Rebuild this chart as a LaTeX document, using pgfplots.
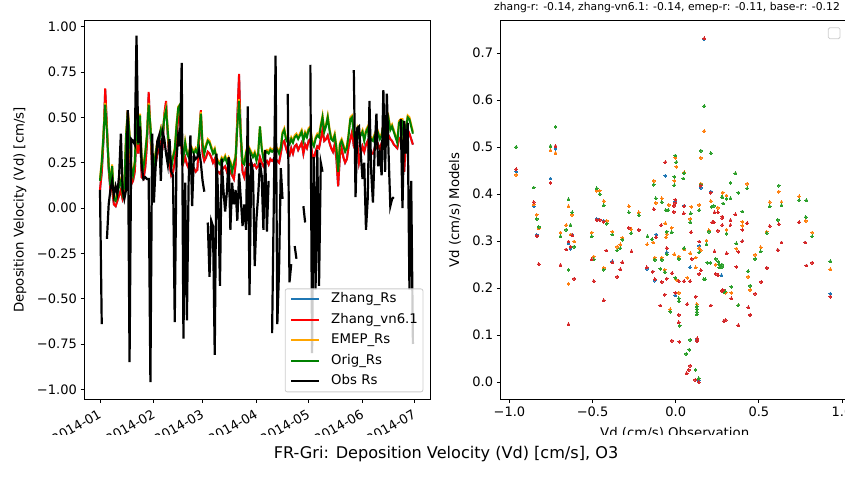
\documentclass[border=0pt]{standalone}
\usepackage{fontspec}
\setmainfont{DejaVu Sans}
\usepackage{pgfplots}
\usepackage{pgfplotstable}
\pgfplotsset{compat=1.18}
\definecolor{mplblue}{HTML}{1F77B4}
\definecolor{mplorange}{HTML}{FF7F0E}
\definecolor{mplgreen}{HTML}{2CA02C}
\definecolor{mplred}{HTML}{D62728}
\definecolor{lgreen}{HTML}{008000}
\definecolor{lorange}{HTML}{FFA500}
\definecolor{lred}{HTML}{FF0000}
\definecolor{lblue}{HTML}{1F77B4}
\definecolor{legframe}{HTML}{CCCCCC}
\newcommand{\tickfont}{\fontsize{13}{15.6}\selectfont}
\newcommand{\legfont}{\fontsize{13.3}{16}\selectfont}
\newcommand{\labfont}{\fontsize{13.3}{16}\selectfont}
\newcommand{\supfont}{\fontsize{16.1}{19}\selectfont}
\newcommand{\ttlfont}{\fontsize{10.8}{13}\selectfont}

% day, Zhang_Rs, Zhang_vn6.1, EMEP_Rs, Orig_Rs, Obs
\pgfplotstableread{
d zr zv em og ob
0 0.10 0.10 0.16 0.15 0.10
1 0.19 0.20 0.26 0.25 -0.64
2 0.37 0.38 0.41 0.40 nan
3 0.65 0.66 0.58 0.57 nan
4 0.44 0.45 0.43 0.42 -0.17
5 0.21 0.22 0.24 0.23 0.02
6 0.10 0.10 0.13 0.12 0.10
7 0.10 0.10 0.24 0.23 0.15
8 0.02 0.02 0.06 0.05 0.07
9 0.01 0.01 0.05 0.04 0.12
10 0.04 0.04 0.09 0.08 0.08
11 0.07 0.07 0.13 0.12 0.18
12 0.10 0.10 0.16 0.15 0.41
13 0.05 0.05 0.09 0.08 0.10
14 0.08 0.08 0.13 0.12 0.05
15 0.34 0.35 0.41 0.40 0.10
16 0.53 0.54 0.54 0.53 0.54
17 0.37 0.38 0.41 0.40 -0.85
18 0.13 0.13 0.23 0.22 0.38
19 0.15 0.15 0.19 0.18 0.37
20 0.20 0.20 0.26 0.25 0.35
21 0.39 0.40 0.50 0.50 0.95
22 0.30 0.30 0.36 0.35 0.36
23 0.43 0.44 0.52 0.51 0.45
24 0.17 0.17 0.26 0.25 0.23
25 0.16 0.16 0.23 0.22 0.16
26 0.22 0.22 0.31 0.30 0.17
27 0.35 0.35 0.41 0.40 0.16
28 0.63 0.64 0.58 0.57 0.16
29 0.42 0.42 0.46 0.45 -0.96
30 0.22 0.22 0.29 0.28 0.41
31 0.18 0.18 0.23 0.22 0.03
32 0.24 0.24 0.31 0.30 0.23
33 0.30 0.30 0.37 0.36 0.37
34 0.32 0.32 0.38 0.37 0.40
35 0.36 0.36 0.44 0.43 0.15
36 0.34 0.34 0.41 0.40 0.42
37 0.51 0.52 0.51 0.50 0.38
38 0.58 0.59 0.55 0.54 0.30
39 0.40 0.40 0.43 0.42 0.24
40 0.24 0.24 0.31 0.30 0.38
41 0.18 0.18 0.23 0.22 0.20
42 0.20 0.20 0.29 0.28 0.18
43 0.25 0.25 0.33 0.32 -0.63
44 0.38 0.38 0.46 0.45 0.27
45 0.50 0.50 0.56 0.55 0.40
46 0.53 0.54 0.57 0.57 0.34
47 0.30 0.30 0.36 0.35 0.80
48 0.25 0.25 0.29 0.28 -0.72
49 0.28 0.28 0.37 0.36 0.14
50 0.24 0.24 0.31 0.30 -0.62
51 0.22 0.22 0.29 0.28 0.15
52 0.25 0.25 0.35 0.34 0.40
53 0.22 0.22 0.33 0.32 0.01
54 0.22 0.22 0.31 0.30 0.29
55 0.20 0.20 0.33 0.32 0.27
56 0.21 0.21 0.31 0.30 0.28
57 0.38 0.38 0.41 0.40 0.32
58 0.53 0.54 0.53 0.52 0.25
59 0.30 0.30 0.36 0.35 0.15
60 0.26 0.26 0.31 0.30 0.09
61 0.28 0.28 0.35 0.34 nan
62 0.31 0.31 0.38 0.37 -0.08
63 0.30 0.30 0.37 0.36 -0.38
64 0.28 0.28 0.34 0.33 -0.07
65 0.25 0.25 0.31 0.30 -0.10
66 0.27 0.27 0.33 0.32 -0.81
67 0.20 0.20 0.28 0.27 0.30
68 0.20 0.20 0.26 0.25 0.05
69 0.19 0.19 0.25 0.24 -0.43
70 0.21 0.21 0.28 0.27 0.27
71 0.22 0.22 0.27 0.26 0.10
72 0.23 0.23 0.29 0.28 -0.02
73 0.20 0.20 0.26 0.25 0.09
74 0.22 0.22 0.28 0.27 0.28
75 0.20 0.20 0.26 0.25 -0.12
76 0.18 0.18 0.21 0.20 0.14
77 0.16 0.16 0.25 0.24 0.02
78 0.24 0.24 0.29 0.28 0.10
79 0.49 0.50 0.46 0.45 -0.07
80 0.73 0.74 0.60 0.59 0.19
81 0.38 0.38 0.41 0.40 0.05
82 0.20 0.20 0.26 0.25 -0.10
83 0.17 0.17 0.25 0.24 0.02
84 0.22 0.22 0.31 0.30 -0.12
85 0.23 0.23 0.29 0.28 0.56
86 0.24 0.24 0.33 0.32 -0.48
87 0.25 0.25 0.31 0.30 0.25
88 0.23 0.23 0.29 0.28 0.20
89 0.24 0.24 0.31 0.30 -0.32
90 0.22 0.22 0.27 0.26 -0.06
91 0.23 0.23 0.31 0.30 0.07
92 0.28 0.28 0.45 0.45 0.25
93 0.25 0.25 0.34 0.33 0.18
94 0.23 0.23 0.28 0.27 -0.12
95 0.25 0.25 0.31 0.30 0.32
96 0.26 0.26 0.32 0.31 -0.13
97 0.24 0.24 0.31 0.30 0.15
98 0.27 0.27 0.33 0.32 nan
99 0.26 0.26 0.32 0.31 -0.69
100 0.27 0.27 0.33 0.32 0.05
101 0.27 0.27 0.34 0.33 0.84
102 0.26 0.26 0.33 0.32 -0.64
103 0.25 0.25 0.31 0.30 -0.34
104 0.30 0.30 0.34 0.33 0.22
105 0.36 0.36 0.42 0.41 0.05
106 0.37 0.37 0.44 0.43 nan
107 0.33 0.33 0.39 0.38 nan
108 0.30 0.30 0.37 0.36 0.63
109 0.29 0.29 0.36 0.35 -0.41
110 0.33 0.33 0.39 0.38 -0.31
111 0.30 0.30 0.37 0.36 nan
112 0.34 0.34 0.40 0.39 -0.21
113 0.35 0.35 0.41 0.40 -0.28
114 0.32 0.32 0.39 0.38 nan
115 0.34 0.34 0.41 0.40 nan
116 0.36 0.36 0.43 0.42 nan
117 0.30 0.30 0.38 0.37 0.01
118 0.35 0.35 0.42 0.41 -0.08
119 0.33 0.33 0.40 0.39 nan
120 0.37 0.37 0.44 0.43 nan
121 0.38 0.38 0.45 0.44 0.79
122 0.30 0.30 0.37 0.36 -0.80
123 0.27 0.27 0.35 0.34 0.28
124 0.31 0.31 0.39 0.38 -0.45
125 0.34 0.34 0.41 0.40 0.32
126 0.33 0.33 0.40 0.39 -0.43
127 0.38 0.38 0.46 0.45 0.25
128 0.43 0.43 0.51 0.50 0.20
129 0.37 0.37 0.43 0.42 nan
130 0.38 0.38 0.46 0.45 nan
131 0.40 0.40 0.51 0.50 nan
132 0.36 0.36 0.44 0.43 nan
133 0.33 0.33 0.39 0.38 nan
134 0.31 0.31 0.38 0.37 nan
135 0.35 0.35 0.41 0.40 nan
136 0.27 0.27 0.34 0.33 nan
137 0.12 0.12 0.21 0.20 nan
138 0.29 0.29 0.36 0.35 nan
139 0.33 0.33 0.38 0.37 nan
140 0.28 0.28 0.35 0.34 nan
141 0.25 0.25 0.32 0.31 nan
142 0.27 0.27 0.34 0.33 nan
143 0.34 0.34 0.41 0.40 nan
144 0.38 0.38 0.50 0.49 nan
145 0.42 0.42 0.51 0.50 nan
146 0.34 0.34 0.41 0.40 0.76
147 0.32 0.32 0.39 0.38 0.06
148 0.36 0.36 0.44 0.43 0.44
149 0.25 0.25 0.40 0.39 0.45
150 0.30 0.30 0.41 0.40 0.30
151 0.34 0.34 0.43 0.42 0.16
152 0.31 0.31 0.38 0.37 0.25
153 0.35 0.35 0.43 0.42 -0.12
154 0.37 0.37 0.45 0.44 0.05
155 0.28 0.28 0.37 0.36 0.59
156 0.30 0.30 0.39 0.38 0.20
157 0.30 0.30 0.38 0.37 0.03
158 0.33 0.33 0.41 0.40 0.32
159 0.33 0.33 0.40 0.39 0.52
160 0.35 0.35 0.42 0.41 0.23
161 0.32 0.32 0.39 0.38 0.30
162 0.36 0.36 0.41 0.40 0.18
163 0.38 0.38 0.46 0.45 0.65
164 0.40 0.40 0.48 0.47 0.20
165 0.37 0.37 0.45 0.44 0.63
166 0.40 0.40 0.50 0.49 0.30
167 0.38 0.38 0.44 0.43 0.01
168 0.37 0.37 0.46 0.45 0.05
169 0.35 0.35 0.43 0.42 0.06
170 0.34 0.34 0.40 0.39 nan
171 0.33 0.33 0.37 0.36 nan
172 0.38 0.38 0.48 0.47 nan
173 0.39 0.39 0.49 0.48 0.49
174 0.38 0.38 0.49 0.48 0.00
175 0.20 0.20 0.31 0.30 0.48
176 0.38 0.38 0.45 0.44 0.30
177 0.43 0.43 0.51 0.50 0.47
178 0.41 0.41 0.50 0.49 -0.45
179 0.38 0.38 0.46 0.45 0.15
180 0.35 0.35 0.42 0.41 -0.75
}\ts

\pgfplotstableread{
x y
-0.96 0.448
-0.723 0.496
-0.753 0.433
-0.854 0.374
-0.836 0.313
-0.623 0.314
-0.645 0.295
-0.633 0.284
-0.475 0.347
-0.433 0.343
-0.381 0.257
0.171 0.729
-0.062 0.439
0.151 0.413
0.211 0.405
-0.002 0.384
0.050 0.375
-0.222 0.324
-0.118 0.314
-0.054 0.276
0.141 0.290
-0.174 0.241
-0.138 0.235
0.086 0.244
-0.126 0.216
-0.002 0.185
0.275 0.227
0.282 0.196
0.129 0.090
0.138 0.003
0.329 0.344
0.429 0.338
0.742 0.340
0.930 0.188
0.377 0.277
0.401 0.300
0.614 0.281
0.636 0.297
0.778 0.297
0.547 0.243
0.786 0.248
0.437 0.159
0.447 0.143
0.290 0.130
}\sb

\pgfplotstableread{
x y
-0.96 0.441
-0.753 0.493
-0.723 0.487
-0.854 0.378
-0.836 0.356
-0.824 0.327
-0.645 0.374
-0.623 0.356
-0.659 0.334
-0.693 0.318
-0.633 0.314
-0.611 0.299
-0.645 0.209
-0.475 0.407
-0.457 0.407
-0.433 0.385
-0.415 0.343
-0.505 0.318
-0.381 0.320
-0.282 0.374
-0.321 0.307
-0.333 0.293
-0.353 0.288
-0.493 0.267
-0.433 0.243
0.171 0.534
0.151 0.477
-0.002 0.477
0.004 0.458
0.050 0.446
-0.008 0.428
-0.132 0.428
0.151 0.422
0.283 0.403
-0.084 0.391
-0.120 0.381
-0.222 0.361
-0.042 0.377
0.094 0.373
0.141 0.377
0.211 0.385
0.254 0.371
0.088 0.347
-0.062 0.338
-0.025 0.328
-0.268 0.325
-0.172 0.293
-0.136 0.297
-0.054 0.315
-0.058 0.308
0.050 0.282
0.141 0.285
0.150 0.281
0.185 0.301
0.200 0.323
-0.126 0.265
-0.084 0.265
-0.008 0.272
0.019 0.267
0.088 0.274
0.120 0.265
0.240 0.250
-0.066 0.239
0.004 0.218
0.069 0.222
0.120 0.244
0.019 0.190
-0.033 0.155
0.127 0.166
0.300 0.190
0.359 0.444
0.429 0.422
0.281 0.403
0.305 0.397
0.620 0.405
0.565 0.383
0.636 0.383
0.742 0.395
0.401 0.341
0.401 0.333
0.782 0.343
0.820 0.318
0.305 0.324
0.547 0.320
0.365 0.284
0.477 0.271
0.511 0.287
0.930 0.240
0.435 0.224
0.335 0.190
0.447 0.196
0.377 0.164
0.290 0.193
}\so

\pgfplotstableread{
x y
-0.96 0.500
-0.723 0.543
-0.753 0.502
-0.854 0.414
-0.836 0.347
-0.824 0.330
-0.645 0.389
-0.623 0.361
-0.633 0.334
-0.693 0.310
-0.659 0.324
-0.611 0.288
-0.645 0.239
-0.475 0.412
-0.457 0.400
-0.433 0.376
-0.415 0.337
-0.505 0.310
-0.381 0.314
-0.282 0.361
-0.321 0.303
-0.353 0.280
-0.333 0.285
-0.493 0.261
-0.433 0.239
0.171 0.587
0.151 0.492
0.211 0.487
-0.002 0.482
0.004 0.468
0.050 0.444
0.046 0.433
-0.008 0.437
-0.008 0.419
-0.132 0.420
0.151 0.420
0.277 0.393
-0.120 0.391
-0.084 0.383
-0.046 0.366
-0.060 0.366
0.090 0.359
0.141 0.366
0.229 0.375
0.215 0.373
0.285 0.380
-0.222 0.355
0.088 0.340
-0.054 0.320
-0.025 0.319
-0.268 0.317
-0.142 0.304
-0.170 0.310
0.050 0.285
0.141 0.276
0.185 0.293
0.200 0.320
-0.126 0.260
-0.084 0.260
0.019 0.262
-0.054 0.272
-0.092 0.241
-0.066 0.234
-0.002 0.222
0.189 0.254
0.209 0.254
0.168 0.219
0.177 0.219
0.240 0.262
0.256 0.256
0.262 0.250
0.262 0.244
0.297 0.193
0.019 0.178
0.019 0.172
-0.033 0.150
0.127 0.161
0.127 0.155
0.127 0.149
0.127 0.144
0.024 0.120
0.086 0.090
0.081 0.069
0.063 0.060
0.119 0.026
0.138 0.008
0.359 0.444
0.329 0.424
0.429 0.412
0.377 0.403
0.281 0.393
0.305 0.390
0.329 0.391
0.620 0.418
0.565 0.374
0.636 0.376
0.742 0.387
0.786 0.387
0.930 0.257
0.401 0.363
0.614 0.345
0.782 0.351
0.820 0.310
0.305 0.316
0.547 0.317
0.365 0.295
0.477 0.262
0.511 0.278
0.278 0.250
0.278 0.245
0.435 0.236
0.335 0.203
0.290 0.191
0.447 0.205
0.377 0.164
}\sg

\pgfplotstableread{
x y
-0.96 0.453
-0.723 0.502
-0.753 0.424
-0.854 0.383
-0.836 0.311
-0.824 0.251
-0.623 0.312
-0.645 0.299
-0.633 0.288
-0.659 0.282
-0.693 0.249
-0.611 0.220
-0.645 0.123
-0.475 0.345
-0.457 0.345
-0.433 0.341
-0.282 0.328
-0.417 0.280
-0.505 0.261
-0.381 0.255
-0.321 0.255
-0.333 0.240
-0.493 0.215
-0.353 0.224
-0.433 0.174
0.171 0.731
-0.062 0.468
0.151 0.418
0.211 0.403
-0.002 0.388
-0.002 0.381
-0.132 0.368
-0.012 0.375
-0.012 0.362
0.050 0.374
0.048 0.359
0.233 0.361
0.254 0.361
0.220 0.340
0.230 0.340
0.280 0.352
0.280 0.334
-0.087 0.334
-0.222 0.324
-0.118 0.308
-0.266 0.278
-0.054 0.285
0.092 0.319
0.141 0.299
0.233 0.278
0.254 0.322
0.096 0.262
0.140 0.230
-0.174 0.244
-0.138 0.235
-0.022 0.232
0.018 0.215
0.050 0.215
0.086 0.215
0.151 0.238
0.240 0.230
0.255 0.227
0.282 0.196
-0.084 0.213
-0.054 0.220
-0.126 0.219
-0.066 0.186
-0.002 0.190
-0.092 0.163
0.069 0.166
0.120 0.182
0.018 0.143
0.018 0.127
0.211 0.163
-0.023 0.088
0.022 0.086
0.129 0.093
0.129 0.088
0.086 0.035
0.079 0.026
0.065 0.019
0.117 0.005
0.138 0.000
0.300 0.132
0.359 0.357
0.280 0.349
0.329 0.344
0.329 0.334
0.401 0.324
0.429 0.338
0.565 0.332
0.620 0.336
0.742 0.340
0.377 0.277
0.401 0.300
0.306 0.274
0.614 0.281
0.636 0.297
0.778 0.297
0.365 0.245
0.547 0.243
0.786 0.248
0.820 0.254
0.335 0.178
0.278 0.194
0.477 0.188
0.514 0.213
0.437 0.159
0.447 0.143
0.290 0.130
0.377 0.121
0.930 0.182
}\sr

\pgfplotsset{
  mpl/.style={
    scale only axis,
    axis line style={line width=0.8pt},
    tick align=outside,
    major tick length=3.5pt,
    every tick/.style={black, line width=0.8pt},
    tick label style={font=\tickfont, inner sep=0pt},
    xtick pos=bottom, ytick pos=left,
    minor tick num=0,
    /pgf/number format/assume math mode=true,
  },
  dots/.style={only marks, mark=*, mark size=1.45pt, color=#1, mark options={solid, draw=#1, fill=#1, line width=0pt}},
}

\begin{document}
\begin{tikzpicture}[x=1pt,y=1pt]
\useasboundingbox (0,0) rectangle (845,476);
\begin{scope}
\clip (0,41) rectangle (845,476);
\begin{axis}[mpl,
  at={(84pt,76.7pt)}, anchor=south west,
  width=346.3pt, height=378.6pt,
  xmin=-9.2, xmax=190, ymin=-1.055, ymax=1.033,
  xtick={0,31,59,90,120,151,181},
  xticklabels={2014-01,2014-02,2014-03,2014-04,2014-05,2014-06,2014-07},
  xticklabel style={rotate=30, anchor=north east, xshift=-5pt, yshift=-3.5pt},
  ytick={-1,-0.75,-0.5,-0.25,0,0.25,0.5,0.75,1},
  yticklabels={−1.00,−0.75,−0.50,−0.25,0.00,0.25,0.50,0.75,1.00},
  yticklabel style={xshift=-3.5pt},
  unbounded coords=jump,
  legend cell align=left,
  legend image code/.code={\draw[#1, line width=2pt] (0pt,0pt) -- (28pt,0pt);},
  legend style={at={(1,0)}, anchor=south east, xshift=-7pt, yshift=7pt,
    font=\legfont, draw=legframe, line width=0.8pt, rounded corners=2pt,
    fill=white, fill opacity=0.8, text opacity=1,
    inner xsep=5pt, inner ysep=4pt, row sep=7.5pt,
    nodes={inner sep=0pt, text height=10pt, text depth=3pt},
    /tikz/every odd column/.append style={column sep=11pt}},
]
\addplot[lblue, line width=2pt] table[x=d, y=zr] {\ts};
\addlegendentry{Zhang\_Rs}
\addplot[lred, line width=2pt] table[x=d, y=zv] {\ts};
\addlegendentry{Zhang\_vn6.1}
\addplot[lorange, line width=2pt] table[x=d, y=em] {\ts};
\addlegendentry{EMEP\_Rs}
\addplot[lgreen, line width=2pt] table[x=d, y=og] {\ts};
\addlegendentry{Orig\_Rs}
\addplot[black, line width=2.2pt] table[x=d, y=ob] {\ts};
\addlegendentry{Obs Rs}
\end{axis}

\begin{axis}[mpl,
  at={(500.3pt,76.7pt)}, anchor=south west,
  width=349.2pt, height=378.6pt,
  xmin=-1.055, xmax=1.045, ymin=-0.0365, ymax=0.7687,
  xtick={-1,-0.5,0,0.5,1},
  xticklabels={−1.0,−0.5,0.0,0.5,1.0},
  xticklabel style={yshift=-3.5pt},
  ytick={0,0.1,0.2,0.3,0.4,0.5,0.6,0.7},
  yticklabels={0.0,0.1,0.2,0.3,0.4,0.5,0.6,0.7},
  yticklabel style={xshift=-3.5pt},
]
\addplot[dots=mplblue] table[x=x, y=y] {\sb};
\addplot[dots=mplorange] table[x=x, y=y] {\so};
\addplot[dots=mplgreen] table[x=x, y=y] {\sg};
\addplot[dots=mplred] table[x=x, y=y] {\sr};
\end{axis}

\node[rotate=90, anchor=base, font=\labfont] at (23.5,266) {Deposition Velocity (Vd) [cm/s]};
\node[rotate=90, anchor=base, font=\labfont] at (459,266) {Vd (cm/s) Models};
\node[anchor=base, font=\labfont] at (674.7,38.3) {Vd (cm/s) Observation};
\end{scope}
\draw[legframe, line width=0.8pt, rounded corners=1.5pt, fill=white] (828.3,437.3) rectangle (840,448.3);
\node[anchor=base, font=\ttlfont] at (667,465) {zhang-r: -0.14, zhang-vn6.1: -0.14, emep-r: -0.11, base-r: -0.12};
\node[anchor=base, font=\supfont] at (446,17.3) {FR-Gri: Deposition Velocity (Vd) [cm/s], O3};
\end{tikzpicture}
\end{document}
